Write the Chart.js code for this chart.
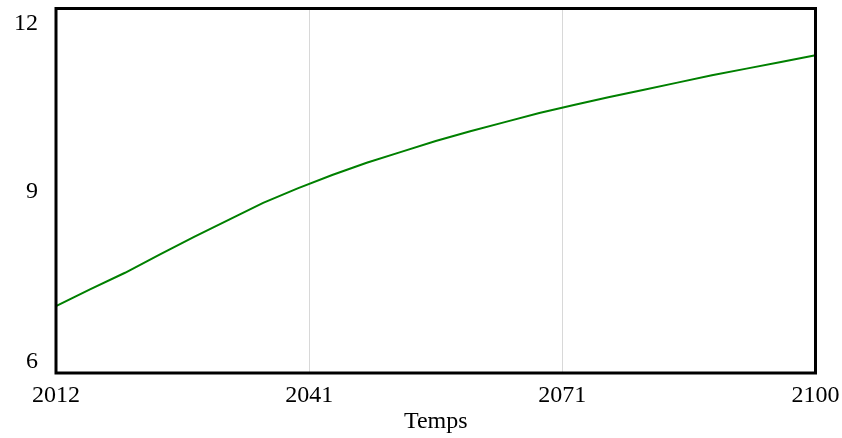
<!DOCTYPE html>
<html>
<head>
<meta charset="utf-8">
<script src="https://cdn.jsdelivr.net/npm/chart.js@4"></script>
<style>
    body { margin: 0; background: #fff; }
    #wrap { width: 842px; height: 438px; }
</style>
</head>
<body>
<div id="wrap"><canvas id="chart" width="842" height="438"></canvas></div>
<script>
// Data
const years = [2012, 2016, 2020, 2024, 2028, 2032, 2036, 2040, 2044, 2048, 2052, 2056,
               2060, 2064, 2068, 2072, 2076, 2080, 2084, 2088, 2092, 2096, 2100];
const values = [7.10, 7.38, 7.65, 7.95, 8.24, 8.52, 8.80, 9.04, 9.26, 9.46, 9.64, 9.82,
                9.98, 10.13, 10.28, 10.41, 10.54, 10.66, 10.78, 10.90, 11.01, 11.12, 11.23];
const xTicks = [2012, 2012 + 88 / 3, 2012 + 176 / 3, 2100];
const yTicks = [6, 9, 12];
const xTitle = 'Temps';

const FONT = 'Liberation Serif, Times New Roman, serif';

// Frame round the plot area plus the y labels kept inside it
const framePlugin = {
    id: 'frame',
    afterDraw(chart) {
        const ctx = chart.ctx;
        const a = chart.chartArea;
        const y = chart.scales.y;
        ctx.save();
        ctx.strokeStyle = '#000';
        ctx.lineWidth = 3;
        ctx.strokeRect(a.left, a.top, a.right - a.left, a.bottom - a.top);

        ctx.fillStyle = '#000';
        ctx.font = '24px ' + FONT;
        ctx.textAlign = 'right';
        ctx.textBaseline = 'alphabetic';
        yTicks.forEach(v => {
            let py = y.getPixelForValue(v) + 7.5;
            if (v === y.max) py += 14;
            if (v === y.min) py -= 13;
            ctx.fillText(String(v), a.left - 18, py);
        });
        ctx.restore();
    }
};

const ctx = document.getElementById('chart').getContext('2d');
new Chart(ctx, {
    type: 'line',
    data: {
        datasets: [{
            data: years.map((yr, i) => ({ x: yr, y: values[i] })),
            borderColor: '#008000',
            borderWidth: 2,
            pointRadius: 0,
            fill: false,
            tension: 0
        }]
    },
    options: {
        responsive: false,
        animation: false,
        layout: { padding: { left: 0, right: 26.5, top: 8.5, bottom: 0 } },
        plugins: {
            legend: { display: false },
            tooltip: { enabled: false }
        },
        scales: {
            x: {
                type: 'linear',
                min: 2012,
                max: 2100,
                afterBuildTicks: scale => {
                    scale.ticks = xTicks.map(v => ({ value: v }));
                },
                afterFit: scale => {
                    scale.height = 65;
                    scale.paddingLeft = 0;
                    scale.paddingRight = 0;
                },
                border: { display: false },
                grid: { color: '#d8d8d8', lineWidth: 1, drawTicks: false },
                ticks: {
                    autoSkip: false,
                    maxRotation: 0,
                    padding: 8,
                    color: '#000',
                    font: { family: FONT, size: 24 },
                    callback: v => Math.round(v)
                },
                title: {
                    display: true,
                    text: xTitle,
                    color: '#000',
                    font: { family: FONT, size: 24 },
                    padding: { top: 0, bottom: 2 }
                }
            },
            y: {
                min: 6,
                max: 12,
                afterBuildTicks: scale => {
                    scale.ticks = yTicks.map(v => ({ value: v }));
                },
                afterFit: scale => { scale.width = 56; },
                border: { display: false },
                grid: { display: false },
                ticks: { display: false }
            }
        }
    },
    plugins: [framePlugin]
});
</script>
</body>
</html>
